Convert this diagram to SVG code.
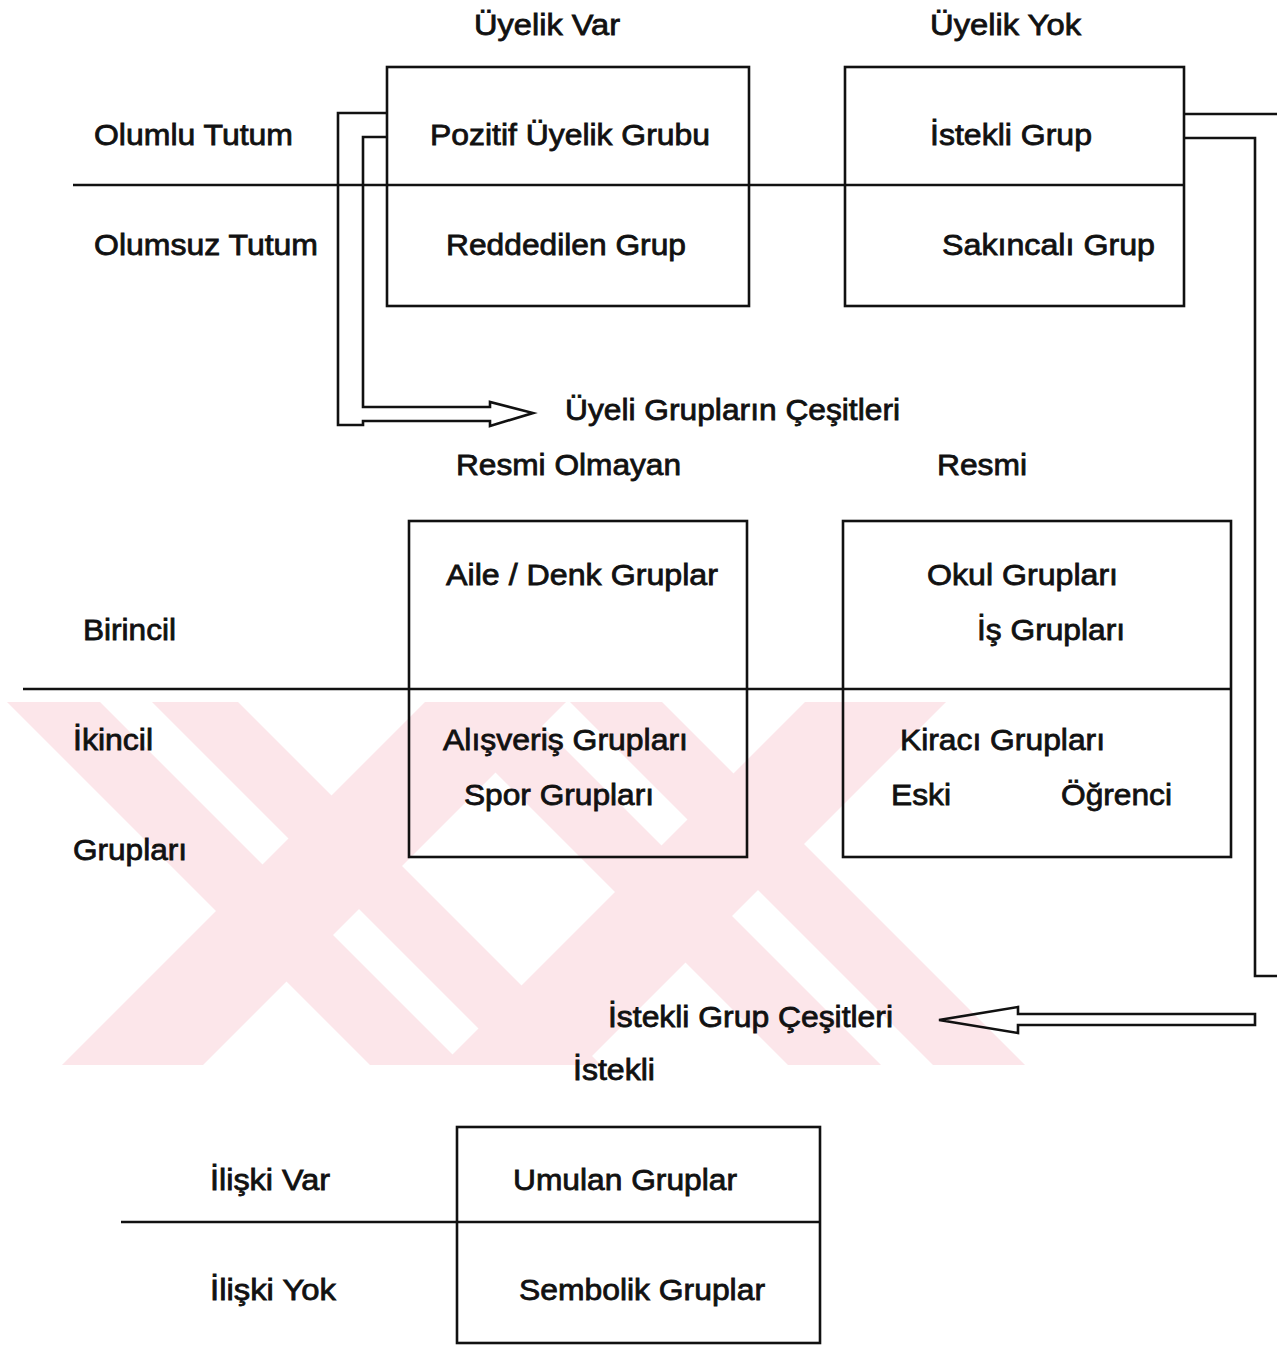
<svg xmlns="http://www.w3.org/2000/svg" width="1277" height="1346" viewBox="0 0 1277 1346">
<style>
.t{font-family:"Liberation Sans",Arial,sans-serif;font-size:30px;fill:#111;stroke:#111;stroke-width:0.8}
.box{fill:none;stroke:#111;stroke-width:2.6}
.ln{fill:none;stroke:#111;stroke-width:2.6}
.wm{fill:#fce6ea}
</style>
<defs>
<clipPath id="wmclip"><rect x="0" y="702" width="1030" height="363"/></clipPath>
</defs>
<rect width="1277" height="1346" fill="#fff"/>
<g id="watermark" clip-path="url(#wmclip)">
<polygon class="wm" points="7,702 100,702 463,1065 370,1065"/>
<polygon class="wm" points="152,702 238,702 601,1065 515,1065"/>
<polygon class="wm" points="425,702 518,702 881,1065 788,1065"/>
<polygon class="wm" points="570,702 662,702 1025,1065 933,1065"/>
<polygon class="wm" points="425,702 566,702 203,1065 62,1065"/>
<polygon class="wm" points="805,702 946,702 583,1065 442,1065"/>
</g>
<g id="dividers">
<line class="ln" x1="73" y1="185" x2="1184" y2="185"/>
<line class="ln" x1="23" y1="689" x2="1231" y2="689"/>
<line class="ln" x1="121" y1="1222" x2="820" y2="1222"/>
</g>
<g id="headers">
<text class="t" x="474" y="35" textLength="146" lengthAdjust="spacingAndGlyphs">Üyelik Var</text>
<text class="t" x="930" y="35" textLength="151" lengthAdjust="spacingAndGlyphs">Üyelik Yok</text>
<text class="t" x="94" y="145" textLength="199" lengthAdjust="spacingAndGlyphs">Olumlu Tutum</text>
<text class="t" x="94" y="255" textLength="224" lengthAdjust="spacingAndGlyphs">Olumsuz Tutum</text>
<text class="t" x="456" y="475" textLength="225" lengthAdjust="spacingAndGlyphs">Resmi Olmayan</text>
<text class="t" x="937" y="475" textLength="90" lengthAdjust="spacingAndGlyphs">Resmi</text>
<text class="t" x="83" y="640" textLength="93" lengthAdjust="spacingAndGlyphs">Birincil</text>
<text class="t" x="73" y="750" textLength="80" lengthAdjust="spacingAndGlyphs">İkincil</text>
<text class="t" x="73" y="860" textLength="114" lengthAdjust="spacingAndGlyphs">Grupları</text>
<text class="t" x="573" y="1080" textLength="82" lengthAdjust="spacingAndGlyphs">İstekli</text>
<text class="t" x="210" y="1190" textLength="120" lengthAdjust="spacingAndGlyphs">İlişki Var</text>
<text class="t" x="210" y="1300" textLength="126" lengthAdjust="spacingAndGlyphs">İlişki Yok</text>
</g>
<g id="node-uyelik-var">
<rect class="box" x="387" y="67" width="362" height="239"/>
<text class="t" x="430" y="145" textLength="280" lengthAdjust="spacingAndGlyphs">Pozitif Üyelik Grubu</text>
<text class="t" x="446" y="255" textLength="240" lengthAdjust="spacingAndGlyphs">Reddedilen Grup</text>
</g>
<g id="node-uyelik-yok">
<rect class="box" x="845" y="67" width="339" height="239"/>
<text class="t" x="930" y="145" textLength="162" lengthAdjust="spacingAndGlyphs">İstekli Grup</text>
<text class="t" x="942" y="255" textLength="213" lengthAdjust="spacingAndGlyphs">Sakıncalı Grup</text>
</g>
<g id="node-resmi-olmayan">
<rect class="box" x="409" y="521" width="338" height="336"/>
<text class="t" x="446" y="585" textLength="272" lengthAdjust="spacingAndGlyphs">Aile / Denk Gruplar</text>
<text class="t" x="443" y="750" textLength="245" lengthAdjust="spacingAndGlyphs">Alışveriş Grupları</text>
<text class="t" x="464" y="805" textLength="190" lengthAdjust="spacingAndGlyphs">Spor Grupları</text>
</g>
<g id="node-resmi">
<rect class="box" x="843" y="521" width="388" height="336"/>
<text class="t" x="927" y="585" textLength="191" lengthAdjust="spacingAndGlyphs">Okul Grupları</text>
<text class="t" x="977" y="640" textLength="148" lengthAdjust="spacingAndGlyphs">İş Grupları</text>
<text class="t" x="900" y="750" textLength="205" lengthAdjust="spacingAndGlyphs">Kiracı Grupları</text>
<text class="t" x="891" y="805" textLength="60" lengthAdjust="spacingAndGlyphs">Eski</text>
<text class="t" x="1061" y="805" textLength="111" lengthAdjust="spacingAndGlyphs">Öğrenci</text>
</g>
<g id="node-istekli">
<rect class="box" x="457" y="1127" width="363" height="216"/>
<text class="t" x="513" y="1190" textLength="224" lengthAdjust="spacingAndGlyphs">Umulan Gruplar</text>
<text class="t" x="519" y="1300" textLength="246" lengthAdjust="spacingAndGlyphs">Sembolik Gruplar</text>
</g>
<g id="node-uyeli-cesitleri">
<text class="t" x="565" y="420" textLength="335" lengthAdjust="spacingAndGlyphs">Üyeli Grupların Çeşitleri</text>
</g>
<g id="node-istekli-cesitleri">
<text class="t" x="608" y="1027" textLength="285" lengthAdjust="spacingAndGlyphs">İstekli Grup Çeşitleri</text>
</g>
<g id="connectors">
<path class="ln" d="M387,113 H338 V425 H363 V421 H490 V426 L533,413 L490,402 V407 H363 V137 H387"/>
<path class="ln" d="M1184,114 H1277 M1184,138 H1255 V976 H1277"/>
<path class="ln" d="M1255,1014 V1025 H1018 V1033 L939,1020 L1018,1007 V1014 Z"/>
</g>
</svg>
